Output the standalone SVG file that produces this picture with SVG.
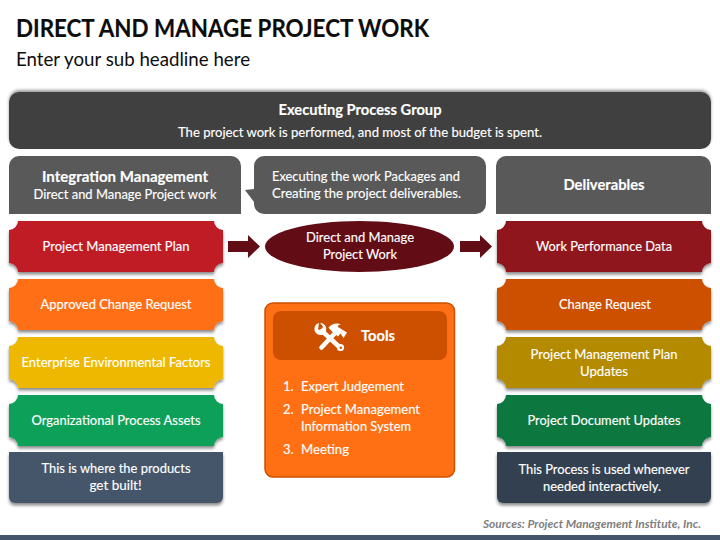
<svg xmlns="http://www.w3.org/2000/svg" width="720" height="540" viewBox="0 0 720 540">
<defs>
<filter id="sh" x="-5%" y="-10%" width="110%" height="125%"><feDropShadow dx="0" dy="2.5" stdDeviation="1.6" flood-color="#000" flood-opacity="0.45"/></filter>
<filter id="shup" x="-5%" y="-15%" width="110%" height="130%"><feDropShadow dx="0" dy="-2" stdDeviation="1.4" flood-color="#000" flood-opacity="0.4"/></filter>
<path id="plaque" d="M9 0H205A9 9 0 0 0 214 9V42A9 9 0 0 0 205 51H9A9 9 0 0 0 0 42V9A9 9 0 0 0 9 0Z"/>
<path id="arrow" d="M0 6H20V0L32 11.5L20 23V17H0Z"/>
</defs>
<style>
text{font-family:Lato,Carlito,"Open Sans",sans-serif;fill:#fff;font-size:13px;text-anchor:middle;stroke:#fff;stroke-width:.15px}
.b{font-weight:700}
.h{font-size:15px;font-weight:700}
.l{text-anchor:start}
.dk{fill:#0d0d0d;stroke:#0d0d0d}
</style>
<rect width="720" height="540" fill="#fff"/>
<text x="16" y="37" class="l b dk" style="font-size:24.5px" textLength="413" lengthAdjust="spacingAndGlyphs">DIRECT AND MANAGE PROJECT WORK</text>
<text x="16" y="66" class="l dk" style="font-size:18.5px;stroke-width:0" textLength="234" lengthAdjust="spacingAndGlyphs">Enter your sub headline here</text>

<g id="connectors" fill="#620c15">
<use href="#arrow" x="228" y="235"/>
<use href="#arrow" x="460" y="235"/>
</g>

<g id="header">
<rect x="9" y="92" width="702" height="57" rx="10" fill="#404040" filter="url(#shup)"/>
<text x="360" y="115" class="h" textLength="163" lengthAdjust="spacingAndGlyphs">Executing Process Group</text>
<text x="360" y="137" textLength="364" lengthAdjust="spacingAndGlyphs">The project work is performed, and most of the budget is spent.</text>
</g>
<g id="integration">
<path d="M9 214V166A10 10 0 0 1 19 156H231A10 10 0 0 1 241 166V214Z" fill="#595959"/>
<text x="125" y="182" class="h" textLength="166" lengthAdjust="spacingAndGlyphs">Integration Management</text>
<text x="125" y="199" textLength="183" lengthAdjust="spacingAndGlyphs">Direct and Manage Project work</text>
</g>
<g id="callout">
<path d="M264 156H476A10 10 0 0 1 486 166V204A10 10 0 0 1 476 214H264A10 10 0 0 1 254 204V202L245 190L254 189V166A10 10 0 0 1 264 156Z" fill="#595959"/>
<text x="272" y="181" class="l" textLength="188" lengthAdjust="spacingAndGlyphs">Executing the work Packages and</text>
<text x="272" y="198" class="l" textLength="189" lengthAdjust="spacingAndGlyphs">Creating the project deliverables.</text>
</g>
<g id="deliverables">
<path d="M496 214V166A10 10 0 0 1 506 156H701A10 10 0 0 1 711 166V214Z" fill="#595959"/>
<text x="604" y="190" class="h" textLength="81" lengthAdjust="spacingAndGlyphs">Deliverables</text>
</g>

<g id="l1"><use href="#plaque" x="9" y="221" fill="#c01a28" filter="url(#sh)"/><text x="116" y="251" textLength="147" lengthAdjust="spacingAndGlyphs">Project Management Plan</text></g>
<g id="l2"><use href="#plaque" x="9" y="279" fill="#ff6f13" filter="url(#sh)"/><text x="116" y="309" textLength="151" lengthAdjust="spacingAndGlyphs">Approved Change Request</text></g>
<g id="l3"><use href="#plaque" x="9" y="337" fill="#efb800" filter="url(#sh)"/><text x="116" y="367" textLength="189" lengthAdjust="spacingAndGlyphs">Enterprise Environmental Factors</text></g>
<g id="l4"><use href="#plaque" x="9" y="395" fill="#10a058" filter="url(#sh)"/><text x="116" y="425" textLength="169" lengthAdjust="spacingAndGlyphs">Organizational Process Assets</text></g>
<g id="l5"><path d="M9 452H223V497A6 6 0 0 1 217 503H15A6 6 0 0 1 9 497Z" fill="#44546a" filter="url(#sh)"/><text x="116" y="473" textLength="149" lengthAdjust="spacingAndGlyphs">This is where the products</text><text x="115.500" y="490" textLength="52" lengthAdjust="spacingAndGlyphs">get built!</text></g>

<g id="center"><ellipse cx="359.500" cy="246.500" rx="94.500" ry="25.500" fill="#620c15"/><text x="360" y="242" textLength="108" lengthAdjust="spacingAndGlyphs">Direct and Manage</text><text x="360" y="259" textLength="74" lengthAdjust="spacingAndGlyphs">Project Work</text></g>

<g id="tools">
<rect x="265" y="303" width="189.500" height="174" rx="8" fill="#ff6f13" stroke="#cd5000" stroke-width="1.500"/>
<rect x="273" y="311" width="174" height="49" rx="8" fill="#cd5000"/>
<g id="tools-icon" fill="#fff">
<path d="M322 331L340.500 348" stroke="#fff" stroke-width="4.500" stroke-linecap="round"/>
<circle cx="340.500" cy="347.500" r="3.600"/><circle cx="340.800" cy="347.800" r="1.200" fill="#cd5000"/>
<path d="M319 323C315.500 324 314 327 314.500 330.500C315.500 334 319.500 336 323 334.500L326 331C327 327 325 324.500 322 323.200L320 322.800L323 326.500L321.500 330L318 329.500Z"/>
<path d="M336.500 331.500L321.500 347.500" stroke="#fff" stroke-width="4.500" stroke-linecap="round"/>
<path d="M328.500 327.500C332 323.800 337 322.300 341 324.500C338.500 324.500 337.500 325.500 338 327L347 332.500L343.500 338L340.500 333.500L338 336.500L331.500 331Z"/>
</g>
<text x="378" y="341" class="b" style="font-size:15px" textLength="34" lengthAdjust="spacingAndGlyphs">Tools</text>
<text x="283" y="391" class="l">1.</text><text x="301" y="391" class="l" textLength="103" lengthAdjust="spacingAndGlyphs">Expert Judgement</text>
<text x="283" y="414" class="l">2.</text><text x="301" y="414" class="l" textLength="119" lengthAdjust="spacingAndGlyphs">Project Management</text>
<text x="301" y="431" class="l" textLength="110" lengthAdjust="spacingAndGlyphs">Information System</text>
<text x="283" y="454" class="l">3.</text><text x="301" y="454" class="l" textLength="48" lengthAdjust="spacingAndGlyphs">Meeting</text>
</g>

<g id="r1"><use href="#plaque" x="497" y="221" fill="#8f131f" filter="url(#sh)"/><text x="604" y="251" textLength="136" lengthAdjust="spacingAndGlyphs">Work Performance Data</text></g>
<g id="r2"><use href="#plaque" x="497" y="279" fill="#cd5000" filter="url(#sh)"/><text x="605" y="309" textLength="92" lengthAdjust="spacingAndGlyphs">Change Request</text></g>
<g id="r3"><use href="#plaque" x="497" y="337" fill="#b38a00" filter="url(#sh)"/><text x="604" y="359" textLength="147" lengthAdjust="spacingAndGlyphs">Project Management Plan</text><text x="604" y="376" textLength="48" lengthAdjust="spacingAndGlyphs">Updates</text></g>
<g id="r4"><use href="#plaque" x="497" y="395" fill="#0c7741" filter="url(#sh)"/><text x="604" y="425" textLength="153" lengthAdjust="spacingAndGlyphs">Project Document Updates</text></g>
<g id="r5"><path d="M497 452H711V497A6 6 0 0 1 705 503H503A6 6 0 0 1 497 497Z" fill="#333f50" filter="url(#sh)"/><text x="604" y="474" textLength="171" lengthAdjust="spacingAndGlyphs">This Process is used whenever</text><text x="602" y="491" textLength="118" lengthAdjust="spacingAndGlyphs">needed interactively.</text></g>

<text x="483" y="528" class="l b" style="font-size:10.500px;font-style:italic;fill:#7f7f7f;stroke-width:0" textLength="218" lengthAdjust="spacingAndGlyphs">Sources: Project Management Institute, Inc.</text>
<rect y="535" width="720" height="5" fill="#44546a"/>
</svg>
